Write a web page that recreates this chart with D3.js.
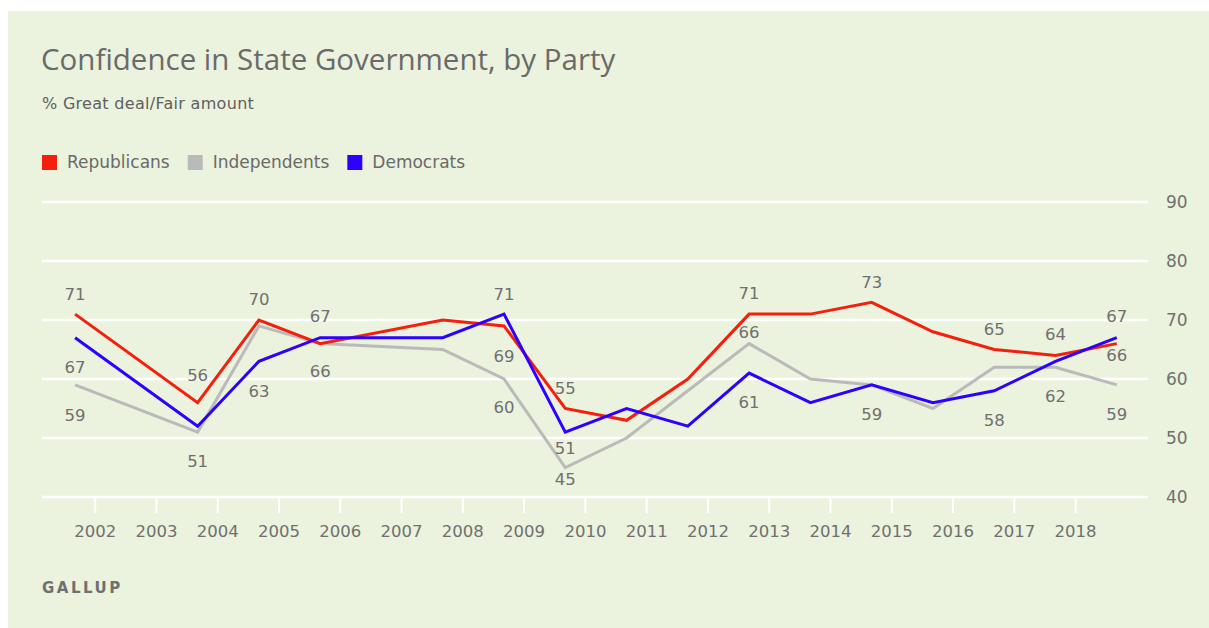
<!DOCTYPE html>
<html>
<head>
<meta charset="utf-8">
<script src="https://cdn.jsdelivr.net/npm/d3@7"></script>
<style>
  html, body { margin: 0; padding: 0; background: #ffffff; }
  svg { display: block; }
</style>
</head>
<body>
<svg id="chart" width="1209" height="628"></svg>
<script>
// Survey years (fieldwork in late summer of each year)
const years = [2001, 2003, 2004, 2005, 2007, 2008, 2009, 2010, 2011, 2012, 2013, 2014, 2015, 2016, 2017, 2018];
// % Great deal/Fair amount of confidence in state government
const republicans  = [71, 56, 70, 66, 70, 69, 55, 53, 60, 71, 71, 73, 68, 65, 64, 66];
const independents = [59, 51, 69, 66, 65, 60, 45, 50, 58, 66, 60, 59, 55, 62, 62, 59];
const democrats    = [67, 52, 63, 67, 67, 71, 51, 55, 52, 61, 56, 59, 56, 58, 63, 67];
const xTickYears = [2002, 2003, 2004, 2005, 2006, 2007, 2008, 2009, 2010, 2011, 2012, 2013, 2014, 2015, 2016, 2017, 2018];
const yTicks = [40, 50, 60, 70, 80, 90];

const seriesList = [
  { key: "Independents", values: independents, color: "#bababa" },
  { key: "Republicans",  values: republicans,  color: "#f41f0c" },
  { key: "Democrats",    values: democrats,    color: "#2d00ff" }
];
const legendOrder = ["Republicans", "Independents", "Democrats"];

// Which points carry a value label, and how far the label sits from its point
const valueLabels = [
  { s: "Republicans", y: 2001, dy: -20 }, { s: "Democrats", y: 2001, dy: 30 }, { s: "Independents", y: 2001, dy: 30 },
  { s: "Republicans", y: 2003, dy: -27 }, { s: "Independents", y: 2003, dy: 29 },
  { s: "Republicans", y: 2004, dy: -21 }, { s: "Democrats", y: 2004, dy: 30 },
  { s: "Democrats", y: 2005, dy: -21 }, { s: "Republicans", y: 2005, dy: 28 },
  { s: "Democrats", y: 2008, dy: -20 }, { s: "Republicans", y: 2008, dy: 30 }, { s: "Independents", y: 2008, dy: 28 },
  { s: "Republicans", y: 2009, dy: -20 }, { s: "Democrats", y: 2009, dy: 16 }, { s: "Independents", y: 2009, dy: 12 },
  { s: "Republicans", y: 2012, dy: -21 }, { s: "Independents", y: 2012, dy: -11 }, { s: "Democrats", y: 2012, dy: 29 },
  { s: "Republicans", y: 2014, dy: -20 }, { s: "Democrats", y: 2014, dy: 29 },
  { s: "Republicans", y: 2016, dy: -20 }, { s: "Democrats", y: 2016, dy: 29 },
  { s: "Republicans", y: 2017, dy: -21 }, { s: "Independents", y: 2017, dy: 29 },
  { s: "Democrats", y: 2018, dy: -21 }, { s: "Republicans", y: 2018, dy: 12 }, { s: "Independents", y: 2018, dy: 29 }
];

const TITLE_FONT = "'Open Sans', Roboto, sans-serif";
const FONT = "'DejaVu Sans', 'Liberation Sans', sans-serif";
const TEXT = "#707070";
const FIELD_OFFSET = 0.68; // polls are fielded around September

const svg = d3.select("#chart");

// Panel background
svg.append("rect")
  .attr("x", 8).attr("y", 11)
  .attr("width", 1201).attr("height", 617)
  .attr("fill", "#ebf2dd");

// Header
svg.append("text")
  .attr("x", 41).attr("y", 70)
  .attr("font-family", TITLE_FONT).attr("font-size", 29.5)
  .attr("fill", "#6a6a6a")
  .text("Confidence in State Government, by Party");

svg.append("text")
  .attr("x", 42).attr("y", 109)
  .attr("font-family", FONT).attr("font-size", 16)
  .attr("letter-spacing", 0.3)
  .attr("fill", "#5f5f5f")
  .text("% Great deal/Fair amount");

// Legend
const legend = svg.append("g").attr("transform", "translate(42,155)");
let lx = 0;
legendOrder.forEach(name => {
  const s = seriesList.find(d => d.key === name);
  const g = legend.append("g").attr("transform", `translate(${lx},0)`);
  g.append("rect").attr("width", 15).attr("height", 15).attr("fill", s.color);
  const t = g.append("text")
    .attr("x", 25).attr("y", 13)
    .attr("font-family", FONT).attr("font-size", 17)
    .attr("fill", "#6a6a6a")
    .text(name);
  lx += 25 + t.node().getComputedTextLength() + 18;
});

// Scales
const x = d3.scaleLinear().domain([2001.14, 2019.19]).range([42, 1148]);
const y = d3.scaleLinear().domain([40, 90]).range([497, 202]);

// Horizontal gridlines with value labels on the right
const yAxis = d3.axisRight(y).tickValues(yTicks).tickSize(0).tickPadding(0).tickFormat(d3.format("d"));
const gy = svg.append("g").attr("transform", "translate(1148,0)").call(yAxis);
gy.select(".domain").remove();
gy.selectAll(".tick text")
  .attr("x", 18)
  .attr("font-family", FONT).attr("font-size", 17)
  .attr("fill", TEXT);
svg.append("g").selectAll("line").data(yTicks).join("line")
  .attr("x1", 42).attr("x2", 1148)
  .attr("y1", d => y(d)).attr("y2", d => y(d))
  .attr("stroke", "#ffffff").attr("stroke-width", 2.5);

// Year ticks along the baseline
const xAxis = d3.axisBottom(x).tickValues(xTickYears).tickSize(16).tickPadding(12).tickFormat(d3.format("d"));
const gx = svg.append("g").attr("transform", `translate(0,${y(40)})`).call(xAxis);
gx.select(".domain").remove();
gx.selectAll(".tick line").attr("stroke", "#ffffff").attr("stroke-width", 2);
gx.selectAll(".tick text")
  .attr("font-family", FONT).attr("font-size", 16.5)
  .attr("fill", TEXT);

// Series lines
const line = d3.line()
  .x((d, i) => x(years[i] + FIELD_OFFSET))
  .y(d => y(d));

svg.append("g").selectAll("path").data(seriesList).join("path")
  .attr("d", d => line(d.values))
  .attr("fill", "none")
  .attr("stroke", d => d.color)
  .attr("stroke-width", 3)
  .attr("stroke-linejoin", "miter");

// Value labels
const byKey = Object.fromEntries(seriesList.map(s => [s.key, s]));
svg.append("g").selectAll("text").data(valueLabels).join("text")
  .attr("x", d => x(d.y + FIELD_OFFSET))
  .attr("y", d => y(byKey[d.s].values[years.indexOf(d.y)]) + d.dy)
  .attr("dy", "0.35em")
  .attr("text-anchor", "middle")
  .attr("font-family", FONT).attr("font-size", 16.5)
  .attr("fill", TEXT)
  .text(d => byKey[d.s].values[years.indexOf(d.y)]);

// Source
svg.append("text")
  .attr("x", 42).attr("y", 593)
  .attr("font-family", FONT).attr("font-size", 15)
  .attr("font-weight", "bold")
  .attr("letter-spacing", 2.5)
  .attr("fill", "#707070")
  .text("GALLUP");
</script>
</body>
</html>
